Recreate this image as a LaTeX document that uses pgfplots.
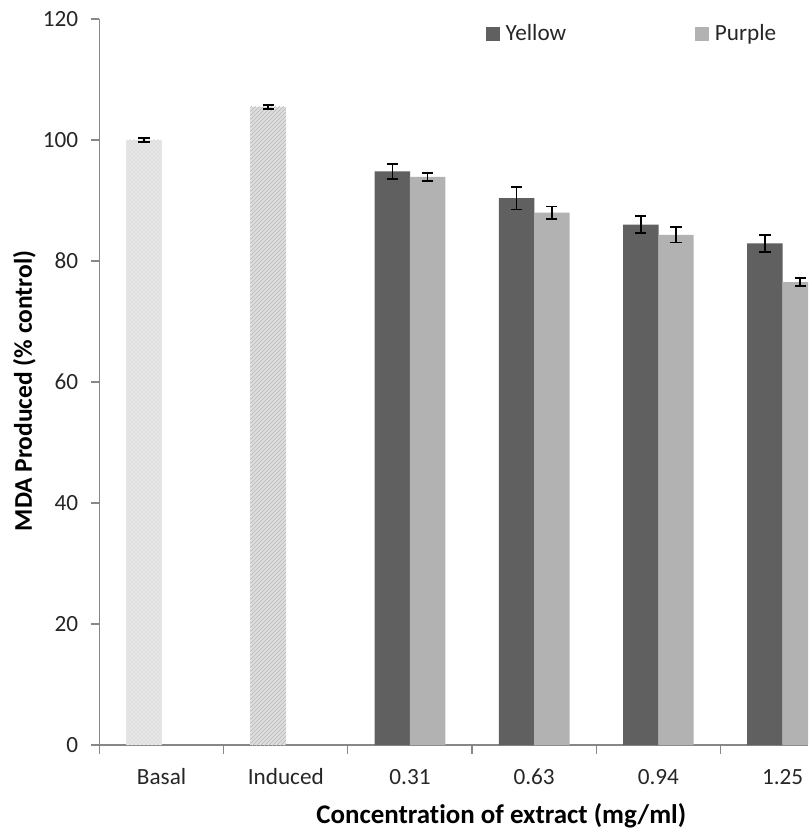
\documentclass[border=0pt]{standalone}
\usepackage{fontspec}
\setmainfont{Carlito}[Ligatures=NoCommon]
\usepackage{pgfplots}
\pgfplotsset{compat=1.18}
\usetikzlibrary{patterns}
\definecolor{ycol}{HTML}{606060}
\definecolor{pcol}{HTML}{B2B2B2}
\definecolor{axgray}{HTML}{878787}
\definecolor{txt}{HTML}{262626}
\begin{document}
\begin{tikzpicture}
\begin{axis}[
  scale only axis, width=531.4pt, height=544.5pt,
  xmin=-0.5, xmax=5.205, ymin=0, ymax=120,
  axis x line*=bottom, axis y line*=left,
  axis line style={axgray, line width=0.9pt, -},
  tick align=outside,
  major tick length=6.5pt,
  tick style={axgray, line width=0.9pt},
  ytick={0,20,40,60,80,100,120},
  xtick={-0.5,0.5,1.5,2.5,3.5,4.5}, xticklabels={},
  extra x ticks={0,1,2,3,4,5},
  extra x tick labels={Basal,Induced,0.31,0.63,0.94,1.25},
  extra x tick style={major tick length=0pt, xticklabel style={anchor=base, yshift=-29.25pt}},
  /pgf/number format/assume math mode=true,
  ticklabel style={font=\fontsize{17.4}{20}\selectfont, text=txt},
  yticklabel style={xshift=-6pt},
  xlabel={\textbf{Concentration of extract (mg/ml)}},
  ylabel={\textbf{MDA Produced (\% control)}},
  xlabel style={font=\fontsize{20.2}{24}\selectfont, text=black,
    at={(axis description cs:0.567,-0.097)}, anchor=center},
  ylabel style={font=\fontsize{19.1}{23}\selectfont, text=black,
    at={(axis description cs:-0.106,0.4876)}, anchor=center},
  legend style={at={(axis description cs:0.539,1.0)}, anchor=north west, draw=none, fill=none,
    legend columns=2, font=\fontsize{17.4}{20}\selectfont, text=txt,
    /tikz/every even column/.append style={column sep=94.5pt}},
  legend image code/.code={\fill[#1] (0pt,-5.2pt) rectangle (10.4pt,5.2pt); \path (13pt,0pt);},
]
\addplot[ybar, bar width=26.6pt, bar shift=-13.2pt, draw=none, fill=black!9,
  postaction={pattern=crosshatch dots, pattern color=black!25}, forget plot]
  coordinates {(0,100)};
\addplot[ybar, bar width=26.6pt, bar shift=-13.2pt, draw=none, fill=black!13,
  postaction={pattern=north east lines, pattern color=black!28}, forget plot]
  coordinates {(1,105.5)};
\addplot[ybar, bar width=26.6pt, bar shift=-13.2pt, draw=none, fill=ycol]
  coordinates {(2,94.8) (3,90.4) (4,86.0) (5,82.9)};
\addplot[ybar, bar width=26.6pt, bar shift=13.2pt, draw=none, fill=pcol]
  coordinates {(2,93.9) (3,88.0) (4,84.3) (5,76.5)};
\legend{Yellow,Purple}
% error bars, placed at the bar centres (category +- 0.1417)
\addplot[draw=none, no markers, forget plot,
  error bars/.cd, y dir=both, y explicit,
  error bar style={draw=black, solid, line width=1.2pt},
  error mark options={rotate=90, draw=black, solid, mark size=4.2pt, line width=1.4pt}]
  coordinates {(-0.1417,100) +- (0,0.35) (0.8583,105.5) +- (0,0.35)
    (1.8583,94.8) +- (0,1.3) (2.8583,90.4) +- (0,1.9) (3.8583,86.0) +- (0,1.4) (4.8583,82.9) +- (0,1.4)
    (2.1417,93.9) +- (0,0.7) (3.1417,88.0) +- (0,1.0) (4.1417,84.3) +- (0,1.25) (5.1417,76.5) +- (0,0.7)};
\coordinate (bl) at (rel axis cs:0,0);
\coordinate (tr) at (rel axis cs:1,1);
\end{axis}
\pgfresetboundingbox
\path ([shift={(-74.625pt,-63.75pt)}]bl) rectangle ([shift={(0pt,14.25pt)}]tr);
\end{tikzpicture}
\end{document}
